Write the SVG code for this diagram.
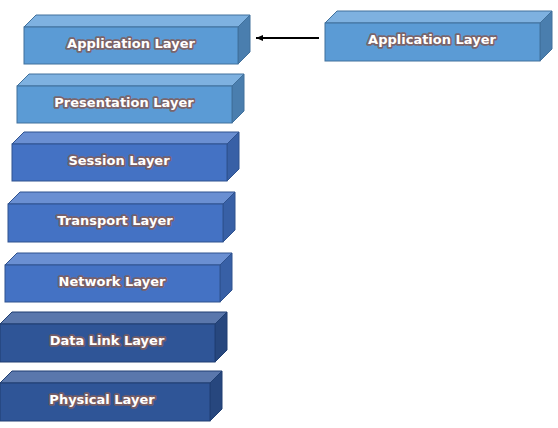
<svg xmlns="http://www.w3.org/2000/svg" width="558" height="428" viewBox="0 0 558 428">
<style>
.t{font-family:"DejaVu Sans","Liberation Sans",Arial,sans-serif;font-weight:bold;font-size:13px;fill:#fff;stroke:#7f5e5e;stroke-width:3.5;stroke-linejoin:round;stroke-opacity:0.9;paint-order:stroke;text-anchor:middle}
.a .f{fill:#5b9bd5}.a .u{fill:#7eb1e0}.a .s{fill:#4a7eae}
.b .f{fill:#4472c4}.b .u{fill:#6a8fd2}.b .s{fill:#3860a6}
.c .f{fill:#2f5597}.c .u{fill:#5a77ac}.c .s{fill:#27477e}
.a path,.a rect{stroke:#41719c;stroke-width:1}
.b path,.b rect{stroke:#2f528f;stroke-width:1}
.c path,.c rect{stroke:#203f72;stroke-width:1}
</style>
<defs>
<marker id="ah" markerWidth="8" markerHeight="8" refX="7" refY="4" orient="auto" markerUnits="userSpaceOnUse">
<path d="M0,1 L7,4 L0,7 Z" fill="#000"/>
</marker>
</defs>
<g id="app1" class="a">
<path class="u" d="M24,27 L36,15 L250,15 L238,27 Z"/>
<path class="s" d="M238,27 L250,15 L250,52 L238,64 Z"/>
<rect class="f" x="24" y="27" width="214" height="37"/>
<text class="t" x="131" y="48">Application Layer</text>
</g>
<g id="app2" class="a">
<path class="u" d="M325,23 L337,11 L552,11 L540,23 Z"/>
<path class="s" d="M540,23 L552,11 L552,49 L540,61 Z"/>
<rect class="f" x="325" y="23" width="215" height="38"/>
<text class="t" x="432" y="44">Application Layer</text>
</g>
<g id="pres" class="a">
<path class="u" d="M17,86 L29,74 L244,74 L232,86 Z"/>
<path class="s" d="M232,86 L244,74 L244,111 L232,123 Z"/>
<rect class="f" x="17" y="86" width="215" height="37"/>
<text class="t" x="124" y="107">Presentation Layer</text>
</g>
<g id="sess" class="b">
<path class="u" d="M12,144 L24,132 L239,132 L227,144 Z"/>
<path class="s" d="M227,144 L239,132 L239,169 L227,181 Z"/>
<rect class="f" x="12" y="144" width="215" height="37"/>
<text class="t" x="119" y="165">Session Layer</text>
</g>
<g id="trans" class="b">
<path class="u" d="M8,204 L20,192 L235,192 L223,204 Z"/>
<path class="s" d="M223,204 L235,192 L235,230 L223,242 Z"/>
<rect class="f" x="8" y="204" width="215" height="38"/>
<text class="t" x="115" y="225">Transport Layer</text>
</g>
<g id="net" class="b">
<path class="u" d="M5,265 L17,253 L232,253 L220,265 Z"/>
<path class="s" d="M220,265 L232,253 L232,290 L220,302 Z"/>
<rect class="f" x="5" y="265" width="215" height="37"/>
<text class="t" x="112" y="286">Network Layer</text>
</g>
<g id="dl" class="c">
<path class="u" d="M0,324 L12,312 L227,312 L215,324 Z"/>
<path class="s" d="M215,324 L227,312 L227,350 L215,362 Z"/>
<rect class="f" x="0" y="324" width="215" height="38"/>
<text class="t" x="107" y="345">Data Link Layer</text>
</g>
<g id="phys" class="c">
<path class="u" d="M0,383 L12,371 L222,371 L210,383 Z"/>
<path class="s" d="M210,383 L222,371 L222,409 L210,421 Z"/>
<rect class="f" x="0" y="383" width="210" height="38"/>
<text class="t" x="102" y="404">Physical Layer</text>
</g>
<g id="connectors">
<line x1="319" y1="38" x2="256" y2="38" stroke="#000" stroke-width="2" marker-end="url(#ah)"/>
</g>
</svg>
